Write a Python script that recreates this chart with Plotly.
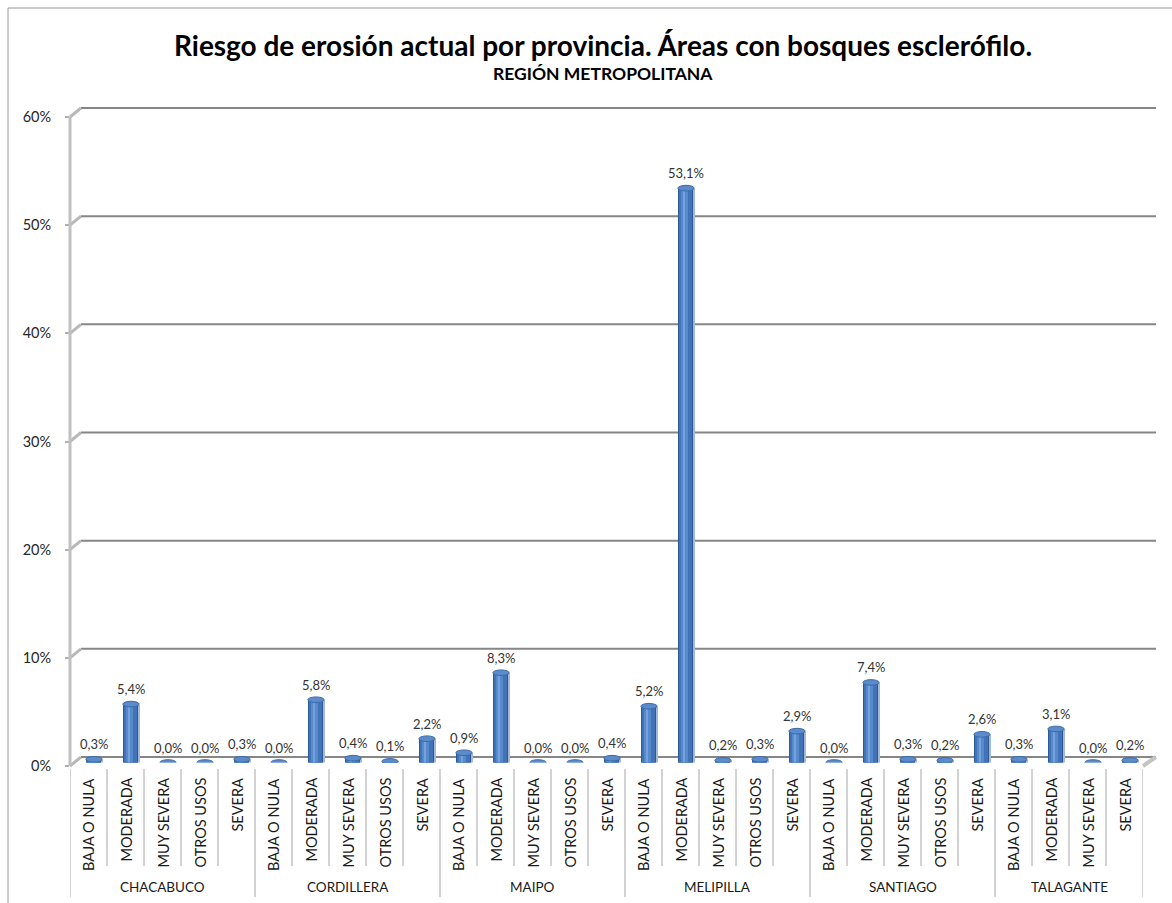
import plotly.graph_objects as go

# Provincias y categorías de riesgo de erosión (porcentaje de superficie)
provincias = ["CHACABUCO", "CORDILLERA", "MAIPO", "MELIPILLA", "SANTIAGO", "TALAGANTE"]
categorias = [
    ["BAJA O NULA", "MODERADA", "MUY SEVERA", "OTROS USOS", "SEVERA"],
    ["BAJA O NULA", "MODERADA", "MUY SEVERA", "OTROS USOS", "SEVERA"],
    ["BAJA O NULA", "MODERADA", "MUY SEVERA", "OTROS USOS", "SEVERA"],
    ["BAJA O NULA", "MODERADA", "MUY SEVERA", "OTROS USOS", "SEVERA"],
    ["BAJA O NULA", "MODERADA", "MUY SEVERA", "OTROS USOS", "SEVERA"],
    ["BAJA O NULA", "MODERADA", "MUY SEVERA", "SEVERA"],
]
valores = [
    [0.3, 5.4, 0.0, 0.0, 0.3],
    [0.0, 5.8, 0.4, 0.1, 2.2],
    [0.9, 8.3, 0.0, 0.0, 0.4],
    [5.2, 53.1, 0.2, 0.3, 2.9],
    [0.0, 7.4, 0.3, 0.2, 2.6],
    [0.3, 3.1, 0.0, 0.2],
]
ticks_y = [0, 10, 20, 30, 40, 50, 60]

W, H = 1172, 903
FONT = "Lato, sans-serif"


def px_x(p):
    return p / W


def px_y(p):
    return (H - p) / H


# Flatten categories
etiquetas, vals = [], []
for cats, vs in zip(categorias, valores):
    etiquetas.extend(cats)
    vals.extend(vs)
n = len(vals)
xs = list(range(n))

# Pseudo-3D geometry: front plane (axis), middle (bars), back wall (grid)
front_x = (70, 1143)
front_y = (766, 117)
depth = (11, -9)
mid_x = (front_x[0] + depth[0] / 2, front_x[1] + depth[0] / 2)
mid_y = (front_y[0] + depth[1] / 2 + 1, front_y[1] + depth[1] / 2 + 1)
back_x = (front_x[0] + depth[0], front_x[1] + depth[0] + 2)
back_y = (front_y[0] + depth[1], front_y[1] + depth[1])


def y_front(t):
    return front_y[0] + (front_y[1] - front_y[0]) * t / 60


def y_back(t):
    return back_y[0] + (back_y[1] - back_y[0]) * t / 60


fig = go.Figure()

# Cylinder bars: layered columns give the rounded shading
capas = [
    (0.44, 0.00, "#A3B9DA"),
    (0.40, -0.02, "#2C5A98"),
    (0.35, -0.025, "#4173B6"),
    (0.18, -0.06, "#5789CB"),
    (0.07, -0.07, "#74A2DC"),
]
for w, s, col in capas:
    fig.add_trace(go.Bar(
        x=xs, y=vals, width=w, offset=-w / 2 + s,
        marker=dict(color=col, line=dict(width=0)),
        xaxis="x2", yaxis="y2", hoverinfo="skip", showlegend=False,
    ))

shapes = []
annotations = []

# Back wall gridlines
for t in ticks_y:
    shapes.append(dict(type="line", xref="paper", yref="paper", layer="below",
                       x0=px_x(back_x[0]), x1=px_x(back_x[1]),
                       y0=px_y(y_back(t)), y1=px_y(y_back(t)),
                       line=dict(color="#868686", width=2)))
    # diagonal join from the front axis
    shapes.append(dict(type="line", xref="paper", yref="paper", layer="below",
                       x0=px_x(front_x[0]), y0=px_y(y_front(t)),
                       x1=px_x(back_x[0]), y1=px_y(y_back(t)),
                       line=dict(color="#B8B8B8", width=3)))

cap_w = 0.44
cap_h = 0.26  # half height of the ellipse, in %
for i, v in zip(xs, vals):
    shapes.append(dict(type="circle", xref="x2", yref="y2", layer="below",
                       x0=i - cap_w / 2, x1=i + cap_w / 2, y0=-cap_h - 0.12, y1=cap_h - 0.12,
                       fillcolor="#88A8D6", line=dict(width=0)))
    shapes.append(dict(type="circle", xref="x2", yref="y2", layer="above",
                       x0=i - cap_w / 2, x1=i + cap_w / 2, y0=v - cap_h, y1=v + cap_h,
                       fillcolor="#5B8BCA", line=dict(color="#3C6BAA", width=1)))
    annotations.append(dict(
        x=i, y=v, xref="x2", yref="y2", text=f"{v:.1f}".replace(".", ",") + "%",
        showarrow=False, yshift=15, yanchor="middle",
        font=dict(family=FONT, size=13, color="#333333"),
    ))
    annotations.append(dict(
        x=i, y=px_y(776), xref="x", yref="paper", text=etiquetas[i], textangle=-90,
        showarrow=False, yanchor="top", xanchor="center",
        font=dict(family=FONT, size=14.5, color="#1A1A1A"),
    ))

# Category separators (short) and province separators (long)
inicio = 0
limites_grupo = [-0.5]
for cats in categorias:
    inicio += len(cats)
    limites_grupo.append(inicio - 0.5)
for b in range(n + 1):
    xb = b - 0.5
    largo = xb in limites_grupo
    shapes.append(dict(type="line", xref="x", yref="paper", x0=xb, x1=xb,
                       y0=px_y(769), y1=px_y(897 if largo else 866),
                       line=dict(color="#A6A6A6", width=1)))

# Province labels
for g, nombre in enumerate(provincias):
    centro = (limites_grupo[g] + limites_grupo[g + 1]) / 2
    annotations.append(dict(x=centro, y=px_y(887), xref="x", yref="paper", text=nombre,
                            showarrow=False, xanchor="center", yanchor="middle",
                            font=dict(family=FONT, size=13.5, color="#1A1A1A")))

# Floor edge at the right end
shapes.append(dict(type="line", xref="paper", yref="paper",
                   x0=px_x(front_x[1]), y0=px_y(front_y[0]),
                   x1=px_x(back_x[1]), y1=px_y(back_y[0]),
                   line=dict(color="#C4C4C4", width=4)))
# Left wall line
shapes.append(dict(type="line", xref="paper", yref="paper",
                   x0=px_x(front_x[0]), x1=px_x(front_x[0]), y0=px_y(front_y[0]), y1=px_y(front_y[1]),
                   line=dict(color="#C0C0C0", width=3)))
# Chart border
shapes.append(dict(type="rect", xref="paper", yref="paper", x0=px_x(8), x1=1.02,
                   y0=-0.02, y1=px_y(8), line=dict(color="#9A9A9A", width=1),
                   fillcolor="rgba(0,0,0,0)"))

# Title
annotations.append(dict(x=px_x(603), y=px_y(45), xref="paper", yref="paper",
                        xanchor="center", yanchor="middle",
                        text="<b>Riesgo de erosión actual por provincia. Áreas con bosques esclerófilo.</b>",
                        showarrow=False, font=dict(family=FONT, size=28, color="#000000")))
annotations.append(dict(x=px_x(603), y=px_y(73), xref="paper", yref="paper",
                        xanchor="center", yanchor="middle",
                        text="<b>REGIÓN METROPOLITANA</b>",
                        showarrow=False, font=dict(family=FONT, size=17.5, color="#000000")))

fig.update_layout(
    template="none",
    width=W, height=H,
    margin=dict(l=0, r=0, t=0, b=0, pad=0, autoexpand=False),
    paper_bgcolor="white", plot_bgcolor="rgba(0,0,0,0)",
    barmode="overlay", bargap=0,
    showlegend=False,
    xaxis=dict(domain=[px_x(front_x[0]), px_x(front_x[1])], range=[-0.5, n - 0.5],
               showticklabels=False, showgrid=False, zeroline=False, showline=False,
               ticks="", automargin=False, fixedrange=True),
    yaxis=dict(domain=[px_y(front_y[0]), px_y(front_y[1])], range=[0, 60],
               tickvals=ticks_y, ticktext=[f"{t}%" for t in ticks_y],
               ticks="outside", ticklen=4, tickcolor="#B0B0B0", tickwidth=2,
               ticklabelstandoff=11, automargin=False,
               showgrid=False, zeroline=False, showline=False,
               tickfont=dict(family=FONT, size=14.5, color="#262626")),
    xaxis2=dict(domain=[px_x(mid_x[0]), px_x(mid_x[1])], range=[-0.5, n - 0.5],
                anchor="y2", visible=False, automargin=False),
    yaxis2=dict(domain=[px_y(mid_y[0]), px_y(mid_y[1])], range=[0, 60],
                anchor="x2", visible=False, automargin=False),
    shapes=shapes,
    annotations=annotations,
)

fig.write_html("out.html")
